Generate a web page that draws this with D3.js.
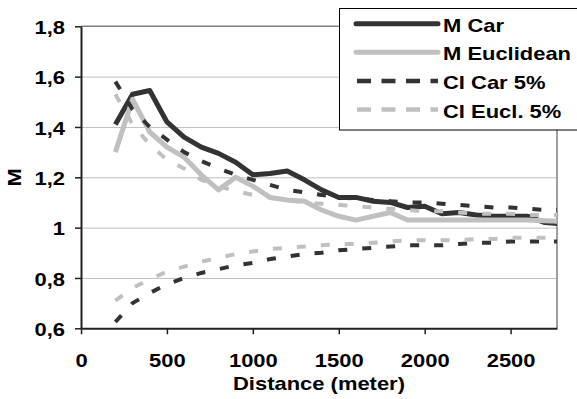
<!DOCTYPE html>
<html lang="en">
<head>
    <meta charset="UTF-8">
    <title>M by distance</title>
    <script src="https://cdn.jsdelivr.net/npm/d3@7"></script>
</head>
<style>
    body { margin: 0; background: #fff; }
    svg { display: block; }
    text { font-family: "Liberation Sans", Arial, sans-serif; font-weight: bold; fill: #000; }
</style>
<body>
    <div id="graphDiv"></div>

    <script>
        // distances (m)
        var distance = [200, 300, 400, 500, 600, 700, 800, 900, 1000, 1100, 1200, 1300, 1400, 1500,
                        1600, 1700, 1800, 1900, 2000, 2100, 2200, 2300, 2400, 2500, 2600, 2700, 2800]

        var mCar = [1.41, 1.53, 1.545, 1.42, 1.36, 1.32, 1.295, 1.26, 1.21, 1.215, 1.225, 1.19, 1.15, 1.12,
                    1.12, 1.105, 1.10, 1.08, 1.085, 1.055, 1.06, 1.05, 1.045, 1.045, 1.045, 1.02, 1.015]
        var mEucl = [1.30, 1.51, 1.38, 1.32, 1.28, 1.21, 1.15, 1.20, 1.165, 1.12, 1.11, 1.105, 1.07, 1.045,
                     1.03, 1.045, 1.06, 1.03, 1.03, 1.03, 1.03, 1.03, 1.03, 1.03, 1.03, 1.027, 1.025]
        var ciCarHigh = [1.58, 1.47, 1.40, 1.35, 1.30, 1.265, 1.235, 1.21, 1.19, 1.17, 1.15, 1.14, 1.13, 1.12,
                         1.115, 1.11, 1.105, 1.10, 1.10, 1.095, 1.09, 1.085, 1.08, 1.08, 1.075, 1.07, 1.07]
        var ciCarLow = [0.625, 0.70, 0.74, 0.775, 0.80, 0.82, 0.835, 0.85, 0.86, 0.875, 0.885, 0.895, 0.90, 0.91,
                        0.915, 0.92, 0.925, 0.93, 0.93, 0.93, 0.935, 0.94, 0.94, 0.945, 0.945, 0.945, 0.945]
        var ciEuclHigh = [1.53, 1.41, 1.33, 1.27, 1.235, 1.19, 1.165, 1.145, 1.13, 1.12, 1.11, 1.10, 1.095, 1.09,
                          1.085, 1.08, 1.075, 1.07, 1.065, 1.065, 1.06, 1.055, 1.055, 1.055, 1.05, 1.05, 1.05]
        var ciEuclLow = [0.71, 0.76, 0.795, 0.825, 0.845, 0.865, 0.88, 0.895, 0.905, 0.915, 0.92, 0.925, 0.93, 0.935,
                         0.935, 0.94, 0.945, 0.95, 0.95, 0.95, 0.95, 0.955, 0.955, 0.96, 0.96, 0.96, 0.96]

        var xTicks = [0, 500, 1000, 1500, 2000, 2500]
        var yTicks = [0.6, 0.8, 1.0, 1.2, 1.4, 1.6, 1.8]
        var legendNames = ["M Car", "M Euclidean", "CI Car 5%", "CI Eucl. 5%"]

        var width = 577
        var height = 399
        var plotLeft = 81, plotRight = 557, plotTop = 26.3, plotBottom = 328.3
        var sx = 1.22   // text in the picture is stretched sideways

        var dark = "#333333", light = "#c0c0c0"

        var svg = d3.select('#graphDiv').append('svg')
                    .attr('width', width).attr('height', height)

        var xScale = d3.scaleLinear().domain([0, 2770]).range([plotLeft, plotRight])
        var yScale = d3.scaleLinear().domain([0.6, 1.8]).range([plotBottom, plotTop])

        // gridlines
        svg.append('g')
            .attr('transform', `translate(${plotLeft},0)`)
            .call(d3.axisLeft(yScale).tickValues(yTicks.slice(1, -1)).tickSize(-(plotRight - plotLeft)).tickFormat(''))
            .call(g => g.select('.domain').remove())
            .selectAll('line').attr('stroke', light).attr('stroke-width', 1)

        // frame top and right
        svg.append('path')
            .attr('d', `M${plotLeft},${yScale(1.8)}H${plotRight}V${plotBottom}`)
            .attr('fill', 'none').attr('stroke', '#808080').attr('stroke-width', 1.5)

        // series
        svg.append('clipPath').attr('id', 'clip')
            .append('rect').attr('x', plotLeft).attr('y', 0).attr('width', plotRight - plotLeft).attr('height', height)

        var line = d3.line().x((d, i) => xScale(distance[i])).y(d => yScale(d))

        var series = [
            { values: mCar, color: dark, w: 5, dash: null },
            { values: mEucl, color: light, w: 5, dash: null },
            { values: ciCarHigh, color: dark, w: 4, dash: '9,15' },
            { values: ciCarLow, color: dark, w: 4, dash: '9,15' },
            { values: ciEuclHigh, color: light, w: 4, dash: '9,15' },
            { values: ciEuclLow, color: light, w: 4, dash: '9,15' }
        ]

        svg.append('g').attr('clip-path', 'url(#clip)')
            .selectAll('path').data(series).join('path')
            .attr('d', d => line(d.values))
            .attr('fill', 'none')
            .attr('stroke', d => d.color)
            .attr('stroke-width', d => d.w)
            .attr('stroke-linejoin', 'round')
            .attr('stroke-dasharray', d => d.dash)

        // axes
        var yAxis = svg.append('g')
            .attr('transform', `translate(${plotLeft},0)`)
            .call(d3.axisLeft(yScale).tickValues(yTicks).tickSizeOuter(0)
                .tickFormat(d => d === 1 ? '1' : d3.format('.1f')(d).replace('.', ',')))
        yAxis.select('.domain').attr('stroke', '#222').attr('stroke-width', 2)
        yAxis.selectAll('line').attr('stroke', '#222').attr('stroke-width', 1.5).attr('x2', -6)
        yAxis.selectAll('text')
            .attr('x', 0).attr('dy', '0.4em')
            .attr('transform', `translate(-16,0) scale(${sx},1)`)
            .style('font-size', '18px').attr('fill', '#000')

        var xAxis = svg.append('g')
            .attr('transform', `translate(0,${plotBottom})`)
            .call(d3.axisBottom(xScale).tickValues(xTicks).tickSizeOuter(0).tickFormat(d3.format('d')))
        xAxis.select('.domain').attr('stroke', '#222').attr('stroke-width', 2)
        xAxis.selectAll('line').attr('stroke', '#222').attr('stroke-width', 1.5).attr('y2', 6)
        xAxis.selectAll('text')
            .attr('y', 0).attr('dy', 0)
            .attr('transform', `translate(0,38.7) scale(${sx},1)`)
            .style('font-size', '18px').attr('fill', '#000')

        // axis titles
        svg.append('text')
            .attr('transform', `translate(${(plotLeft + plotRight) / 2},390) scale(${sx},1)`)
            .attr('text-anchor', 'middle').style('font-size', '18px')
            .text('Distance (meter)')
        svg.append('text')
            .attr('transform', `translate(21,${(plotTop + plotBottom) / 2}) rotate(-90) scale(${sx},1)`)
            .attr('text-anchor', 'middle').style('font-size', '18px')
            .text('M')

        // legend
        var legend = svg.append('g')
        legend.append('rect')
            .attr('x', 339.5).attr('y', 8.5).attr('width', 245).attr('height', 121.5)
            .attr('fill', '#fff').attr('stroke', '#000').attr('stroke-width', 1)

        var rows = legend.selectAll('g.row').data(legendNames).join('g')
            .attr('class', 'row')
            .attr('transform', (d, i) => `translate(0,${31.7 + i * 28.6})`)
        rows.append('line')
            .attr('x1', (d, i) => i < 2 ? 356 : 357).attr('x2', 438)
            .attr('y1', -8).attr('y2', -8)
            .attr('stroke', (d, i) => series[i < 2 ? i : (i === 2 ? 2 : 4)].color)
            .attr('stroke-width', (d, i) => i < 2 ? 5 : 4.5)
            .attr('stroke-linecap', (d, i) => i < 2 ? 'round' : 'butt')
            .attr('stroke-dasharray', (d, i) => i < 2 ? null : '14,10.5')
        rows.append('text')
            .attr('transform', `translate(443,0) scale(${sx},1)`)
            .style('font-size', '18px')
            .text(d => d)
    </script>
</body>
</html>
